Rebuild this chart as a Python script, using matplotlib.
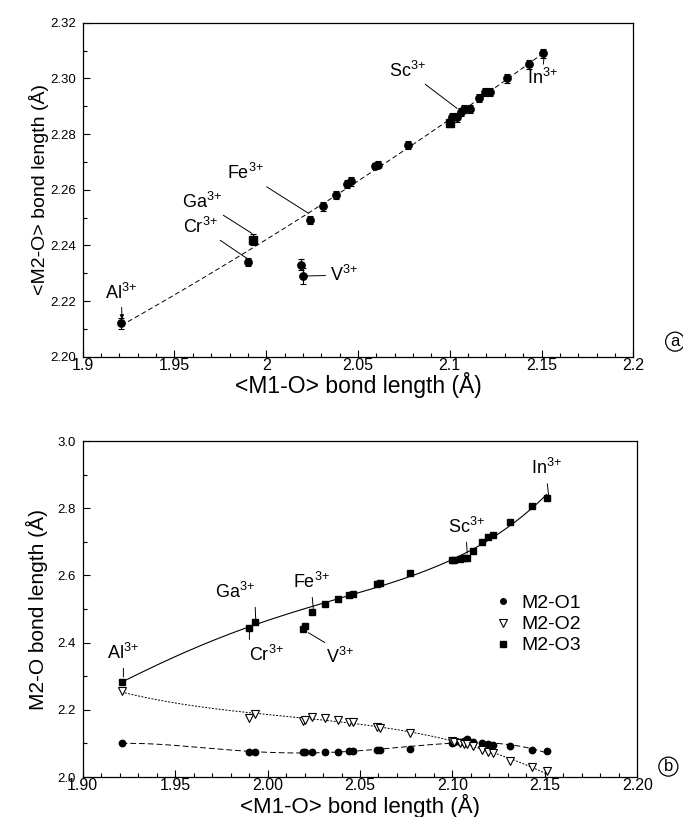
import numpy as np
import matplotlib
matplotlib.use("Agg")
import matplotlib.pyplot as plt
from matplotlib.lines import Line2D

plt.rcParams['font.family'] = ['Liberation Sans', 'DejaVu Sans']
plt.rcParams['mathtext.fontset'] = 'custom'
plt.rcParams['mathtext.rm'] = 'Liberation Sans'
plt.rcParams['mathtext.it'] = 'Liberation Sans:italic'

# <M1-O> bond length for each compound (same set in both panels)
m1o = [1.921, 1.990, 1.993, 2.019, 2.020, 2.024, 2.031, 2.038, 2.044, 2.046,
       2.059, 2.061, 2.077, 2.100, 2.101, 2.104, 2.106, 2.108, 2.111, 2.116,
       2.119, 2.122, 2.131, 2.143, 2.151]
is_v = [False, False, False, True, True] + [False] * 20

# panel a: mean M2-O distance with esd
m2o_mean = [2.212, 2.234, 2.242, 2.233, 2.229, 2.249, 2.254, 2.258, 2.262, 2.263,
            2.2685, 2.269, 2.276, 2.284, 2.286, 2.286, 2.288, 2.289, 2.289, 2.293,
            2.295, 2.295, 2.300, 2.305, 2.309]
m2o_err = [0.002, 0.0015, 0.002, 0.002, 0.0027, 0.0015, 0.0015, 0.0015, 0.0015, 0.0015,
           0.0012, 0.0012, 0.0015, 0.0015, 0.0015, 0.0015, 0.0015, 0.0015, 0.0015, 0.0015,
           0.0015, 0.0015, 0.0015, 0.0015, 0.0015]
square_a = [False, False, True, False, False, False, False, False, False, False,
            False, False, False, True, False, False, False, False, False, False,
            False, False, False, False, False]

# panel b: individual M2-O distances
m2o1 = [2.100, 2.075, 2.076, 2.074, 2.075, 2.075, 2.0735, 2.075, 2.0765, 2.078,
        2.080, 2.080, 2.083, 2.102, 2.104, 2.105, 2.108, 2.112, 2.103, 2.100,
        2.098, 2.095, 2.092, 2.080, 2.077]
m2o2 = [2.256, 2.1765, 2.1865, 2.166, 2.170, 2.1796, 2.1765, 2.170, 2.163, 2.165,
        2.150, 2.146, 2.132, 2.107, 2.105, 2.102, 2.099, 2.097, 2.092, 2.080,
        2.075, 2.0705, 2.048, 2.029, 2.018]
m2o3 = [2.282, 2.444, 2.462, 2.440, 2.449, 2.492, 2.515, 2.529, 2.541, 2.545,
        2.575, 2.578, 2.606, 2.645, 2.646, 2.649, 2.651, 2.653, 2.674, 2.699,
        2.713, 2.720, 2.760, 2.808, 2.830]
series_names = ['M2-O1', 'M2-O2', 'M2-O3']

# cation labels: (text, label position, leader end)
labels_a = [('Al', (1.921, 2.2228), (1.9214, 2.2135)),
            ('Cr', (1.964, 2.2467), (1.9895, 2.2353)),
            ('Ga', (1.965, 2.2557), (1.9922, 2.2443)),
            ('Fe', (1.9886, 2.2659), (2.0231, 2.2515)),
            ('V', (2.0422, 2.2293), (2.0213, 2.229)),
            ('Sc', (2.0768, 2.3028), (2.104, 2.2892)),
            ('In', (2.1504, 2.3000), (2.1515, 2.3090))]
labels_b = [('Al', (1.922, 2.370), (1.922, 2.298), (0.5, 0.0)),
            ('Ga', (1.9824, 2.5515), (1.9936, 2.466), (1.0, 0.0)),
            ('Cr', (1.9996, 2.363), (1.9902, 2.447), (0.0, 1.0)),
            ('Fe', (2.0239, 2.581), (2.0248, 2.497), (0.5, 0.0)),
            ('V', (2.0392, 2.358), (2.0221, 2.4295), (0.2, 1.0)),
            ('Sc', (2.1074, 2.745), (2.108, 2.666), (0.5, 0.0)),
            ('In', (2.151, 2.919), (2.152, 2.839), (0.5, 0.0))]

x = np.array(m1o)
v = np.array(is_v)
keep = ~v
xs = np.linspace(x.min(), x.max(), 300)

fig = plt.figure(figsize=(6.83, 8.17), dpi=100)
ax1 = fig.add_axes([0.1211, 0.5634, 0.8061, 0.4088])
ax2 = fig.add_axes([0.1211, 0.0489, 0.8120, 0.4113])


def style_axis(ax):
    ax.tick_params(which='both', direction='in', top=False, right=False, width=0.8)
    ax.tick_params(which='major', length=5)
    ax.tick_params(which='minor', length=3)
    ax.tick_params(axis='x', labelsize=11.5, pad=1)
    ax.tick_params(axis='y', labelsize=9.5, pad=5)
    for s in ax.spines.values():
        s.set_linewidth(0.9)


def cation(name):
    return name + r'$^{3{+}}$'


# ---- panel a ----
ya = np.array(m2o_mean)
ea = np.array(m2o_err)
sq = np.array(square_a)
ax1.errorbar(x, ya, yerr=ea, fmt='none', ecolor='black', elinewidth=0.8, capsize=2.5, capthick=0.8)
ax1.plot(x[~sq], ya[~sq], 'o', color='black', ms=5.3, zorder=3)
ax1.plot(x[sq], ya[sq], 's', color='black', ms=5.3, zorder=3)
ca = np.polyfit(x[keep], ya[keep], 2)
ax1.plot(xs, np.polyval(ca, xs), color='black', lw=0.7, dashes=(5, 3))

for name, txt, tip in labels_a:
    arrow = dict(arrowstyle='-', lw=0.7, color='black', shrinkA=1, shrinkB=0)
    if name == 'Al':
        arrow = dict(arrowstyle='-|>', lw=0.7, color='black', mutation_scale=6, shrinkA=1, shrinkB=0)
    ax1.annotate(cation(name), xy=tip, xytext=txt, ha='center', va='center',
                 fontsize=13, arrowprops=arrow)

ax1.set_xlim(1.9, 2.2)
ax1.set_ylim(2.20, 2.32)
ax1.set_xticks([1.9, 1.95, 2.0, 2.05, 2.1, 2.15, 2.2])
ax1.set_xticklabels(['1.9', '1.95', '2', '2.05', '2.1', '2.15', '2.2'])
ax1.set_xticks(np.arange(1.9, 2.2001, 0.01), minor=True)
ax1.set_yticks(np.arange(2.20, 2.3201, 0.02))
ax1.set_yticklabels(['%.2f' % t for t in np.arange(2.20, 2.3201, 0.02)])
ax1.set_yticks(np.arange(2.20, 2.3201, 0.01), minor=True)
style_axis(ax1)
ax1.set_xlabel('<M1-O> bond length (Å)', fontsize=16.5)
ax1.set_ylabel('<M2-O> bond length (Å)', fontsize=14)
ax1.xaxis.set_label_coords(0.5, -0.047)
ax1.yaxis.set_label_coords(-0.062, 0.5)
ax1.text(1.076, 0.045, 'a', transform=ax1.transAxes, ha='center', va='center', fontsize=12,
         bbox=dict(boxstyle='circle,pad=0.12', fc='white', ec='black', lw=0.9))

# ---- panel b ----
y1 = np.array(m2o1)
y2 = np.array(m2o2)
y3 = np.array(m2o3)
c1 = np.polyfit(x[keep], y1[keep], 4)
c2 = np.polyfit(x[keep], y2[keep], 3)
c3 = np.polyfit(x[keep], y3[keep], 4)
ax2.plot(xs, np.polyval(c1, xs), color='black', lw=0.7, dashes=(6, 3))
ax2.plot(xs, np.polyval(c2, xs), color='black', lw=0.7, dashes=(2, 1.5))
ax2.plot(xs, np.polyval(c3, xs), color='black', lw=0.8)
ax2.plot(x, y1, 'o', color='black', ms=4.6, zorder=3)
ax2.plot(x, y2, 'v', mfc='white', mec='black', mew=0.8, ms=6, zorder=3)
ax2.plot(x, y3, 's', color='black', ms=5, zorder=3)

for name, txt, tip, rp in labels_b:
    ax2.annotate(cation(name), xy=tip, xytext=txt, ha='center', va='center', fontsize=13,
                 arrowprops=dict(arrowstyle='-', lw=0.7, color='black', relpos=rp,
                                 shrinkA=2, shrinkB=0))

handles = [Line2D([], [], ls='none', marker='o', color='black', ms=4),
           Line2D([], [], ls='none', marker='v', mfc='white', mec='black', mew=0.8, ms=5.5),
           Line2D([], [], ls='none', marker='s', color='black', ms=4.5)]
ax2.legend(handles, series_names, loc='upper left', bbox_to_anchor=(0.708, 0.595), frameon=False,
           fontsize=14, handlelength=1.0, handletextpad=0.45, labelspacing=0.18)

ax2.set_xlim(1.90, 2.20)
ax2.set_ylim(2.0, 3.0)
ax2.set_xticks(np.arange(1.90, 2.2001, 0.05))
ax2.set_xticklabels(['%.2f' % t for t in np.arange(1.90, 2.2001, 0.05)])
ax2.set_xticks(np.arange(1.90, 2.2001, 0.01), minor=True)
ax2.set_yticks(np.arange(2.0, 3.001, 0.2))
ax2.set_yticklabels(['%.1f' % t for t in np.arange(2.0, 3.001, 0.2)])
ax2.set_yticks(np.arange(2.0, 3.001, 0.1), minor=True)
style_axis(ax2)
ax2.set_xlabel('<M1-O> bond length (Å)', fontsize=16)
ax2.set_ylabel('M2-O bond length (Å)', fontsize=15)
ax2.xaxis.set_label_coords(0.5, -0.05)
ax2.yaxis.set_label_coords(-0.062, 0.5)
ax2.text(1.056, 0.031, 'b', transform=ax2.transAxes, ha='center', va='center', fontsize=12,
         bbox=dict(boxstyle='circle,pad=0.12', fc='white', ec='black', lw=0.9))

fig.savefig('out.png', dpi=100)
